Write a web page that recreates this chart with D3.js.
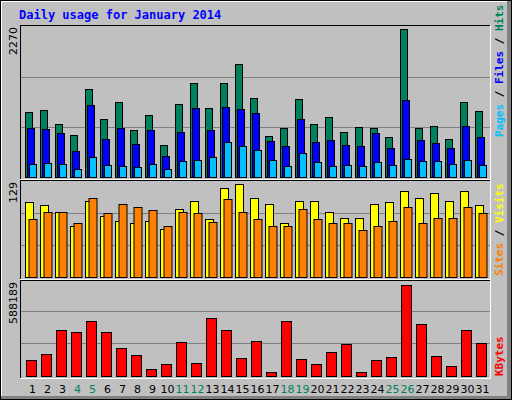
<!DOCTYPE html>
<html>
<head>
<meta charset="utf-8">
<script src="https://cdn.jsdelivr.net/npm/d3@7"></script>
<style>
  body { margin: 0; background: #fff; }
  text { font-family: "DejaVu Sans Mono", monospace; }
</style>
</head>
<body>
<div id="chart"></div>
<script>
// Webalizer style daily usage chart

const days = d3.range(1, 32);
const weekends = [4, 5, 11, 12, 18, 19, 25, 26];
const hits = [971, 1001, 789, 623, 1319, 865, 1122, 699, 926, 472, 1092, 1410, 1031, 1410, 1697, 1183,
  608, 729, 1168, 789, 895, 668, 744, 729, 593, 2227, 729, 759, 562, 1122, 986];
const files = [729, 714, 653, 381, 1077, 562, 729, 487, 699, 305, 668, 1031, 699, 1047, 1016, 956,
  532, 456, 865, 517, 547, 472, 456, 653, 426, 1153, 547, 502, 426, 759, 593];
const pages = [184, 199, 184, 108, 290, 169, 154, 139, 184, 108, 230, 245, 290, 517, 456, 396,
  245, 154, 351, 214, 154, 169, 154, 214, 169, 260, 230, 230, 184, 245, 169];
const visits = [101, 97, 88, 68, 103, 82, 75, 72, 75, 65, 91, 103, 78, 120, 125, 106,
  98, 72, 103, 102, 88, 79, 79, 98, 101, 116, 106, 113, 102, 116, 97];
const sites = [78, 88, 88, 72, 106, 86, 98, 94, 90, 69, 87, 86, 74, 105, 88, 78,
  69, 69, 91, 78, 72, 72, 63, 69, 75, 95, 72, 80, 79, 95, 86];
const kbytes = [93000, 131000, 273000, 261000, 327000, 261000, 165000, 123000, 39000, 69000, 201000, 75000,
  345000, 273000, 105000, 207000, 21000, 327000, 99000, 69000, 141000, 189000, 21000, 93000, 111000,
  549000, 309000, 117000, 57000, 273000, 195000];
const maxHits = 2270, maxVisits = 129, maxKbytes = 588189;

let width = 512;
let height = 400;
let svg = d3.select('#chart').append('svg')
  .attr('width', width)
  .attr('height', height);

// frame
svg.append('rect').attr('x', 0).attr('y', 0).attr('width', width).attr('height', height).style('fill', '#000');
svg.append('rect').attr('x', 1).attr('y', 1).attr('width', 510).attr('height', 398).style('fill', '#808080');
svg.append('rect').attr('x', 1).attr('y', 1).attr('width', 506).attr('height', 395).style('fill', '#fff');
svg.append('rect').attr('x', 2).attr('y', 2).attr('width', 505).attr('height', 394).style('fill', '#c0c0c0');

svg.append('text').attr('x', 19).attr('y', 19)
  .style('font-size', '12px').style('font-weight', 'bold').style('fill', '#0000ff')
  .text('Daily usage for January 2014');

let x = d3.scaleBand().domain(days).range([22, 487]);

let panels = [
  { top: 25, bottom: 180, base: 176.5, max: maxHits, label: '2270' },
  { top: 180, bottom: 280, base: 276.5, max: maxVisits, label: '129' },
  { top: 280, bottom: 379, base: 375.8, max: maxKbytes, label: '588189' }
];
panels[0].y = d3.scaleLinear().domain([0, maxHits]).range([176.5, 26.5]);
panels[1].y = d3.scaleLinear().domain([0, maxVisits]).range([276.5, 181.5]);
panels[2].y = d3.scaleLinear().domain([0, maxKbytes]).range([375.8, 278]);

panels.forEach((p) => {
  svg.append('rect').attr('x', 20).attr('y', p.top).attr('width', 471).attr('height', p.bottom - p.top)
    .style('fill', '#c0c0c0').style('stroke', 'none');
  svg.append('line').attr('x1', 20).attr('x2', 491).attr('y1', p.top + 0.5).attr('y2', p.top + 0.5).style('stroke', '#000');
  svg.append('line').attr('x1', 20.5).attr('x2', 20.5).attr('y1', p.top).attr('y2', p.bottom).style('stroke', '#000');
  svg.append('line').attr('x1', 20).attr('x2', 491).attr('y1', p.bottom - 0.5).attr('y2', p.bottom - 0.5).style('stroke', '#fff');
  svg.append('line').attr('x1', 490.5).attr('x2', 490.5).attr('y1', p.top).attr('y2', p.bottom).style('stroke', '#fff');
  [1 / 3, 2 / 3].forEach((f) => {
    let gy = Math.round(p.y(p.max * f)) + 0.5;
    svg.append('line').attr('x1', 21).attr('x2', 490).attr('y1', gy).attr('y2', gy)
      .style('stroke', '#808080');
  });
  svg.append('text')
    .attr('transform', 'translate(17,' + (p.top + 2) + ') rotate(-90)')
    .attr('text-anchor', 'end')
    .style('font-family', 'DejaVu Sans, sans-serif').style('font-size', '11px').style('fill', '#000')
    .text(p.label);
});

let drawBars = (data, scale, off, w, color) => {
  svg.append('g').selectAll('rect').data(data).join('rect')
    .attr('x', (d, i) => x(days[i]) + off + 0.5)
    .attr('y', (d) => Math.round(scale(d)) + 0.5)
    .attr('width', w)
    .attr('height', (d) => Math.round(scale(0)) - Math.round(scale(d)))
    .style('fill', color)
    .style('stroke', '#000');
};

drawBars(hits, panels[0].y, 3, 7, '#00805c');
drawBars(files, panels[0].y, 5, 7, '#0000ff');
drawBars(pages, panels[0].y, 7, 7, '#00c0ff');
drawBars(visits, panels[1].y, 3, 8, '#ffff00');
drawBars(sites, panels[1].y, 6.5, 8, '#ff8000');
drawBars(kbytes, panels[2].y, 4, 10, '#ff0000');

// day labels
svg.append('g').selectAll('text').data(days).join('text')
  .attr('x', (d) => x(d) + x.bandwidth() / 2 + 3)
  .attr('y', 393)
  .attr('text-anchor', 'middle')
  .style('font-family', 'DejaVu Sans, sans-serif').style('font-size', '11px')
  .style('fill', (d) => weekends.includes(d) ? '#00805c' : '#000')
  .text((d) => d);

// right legends
let legend = (yEnd, parts) => {
  let t = svg.append('text')
    .attr('transform', 'translate(503,' + yEnd + ') rotate(-90)')
    .style('font-size', '11px').style('font-weight', 'bold');
  parts.forEach((pt) => {
    t.append('tspan').style('fill', pt[1]).text(pt[0]);
  });
};
legend(137, [['Pages', '#00c0ff'], [' / ', '#000'], ['Files', '#0000ff'], [' / ', '#000'], ['Hits', '#00805c']]);
legend(276, [['Sites', '#ff8000'], [' / ', '#000'], ['Visits', '#ffff00']]);
legend(376, [['KBytes', '#ff0000']]);
</script>
</body>
</html>
